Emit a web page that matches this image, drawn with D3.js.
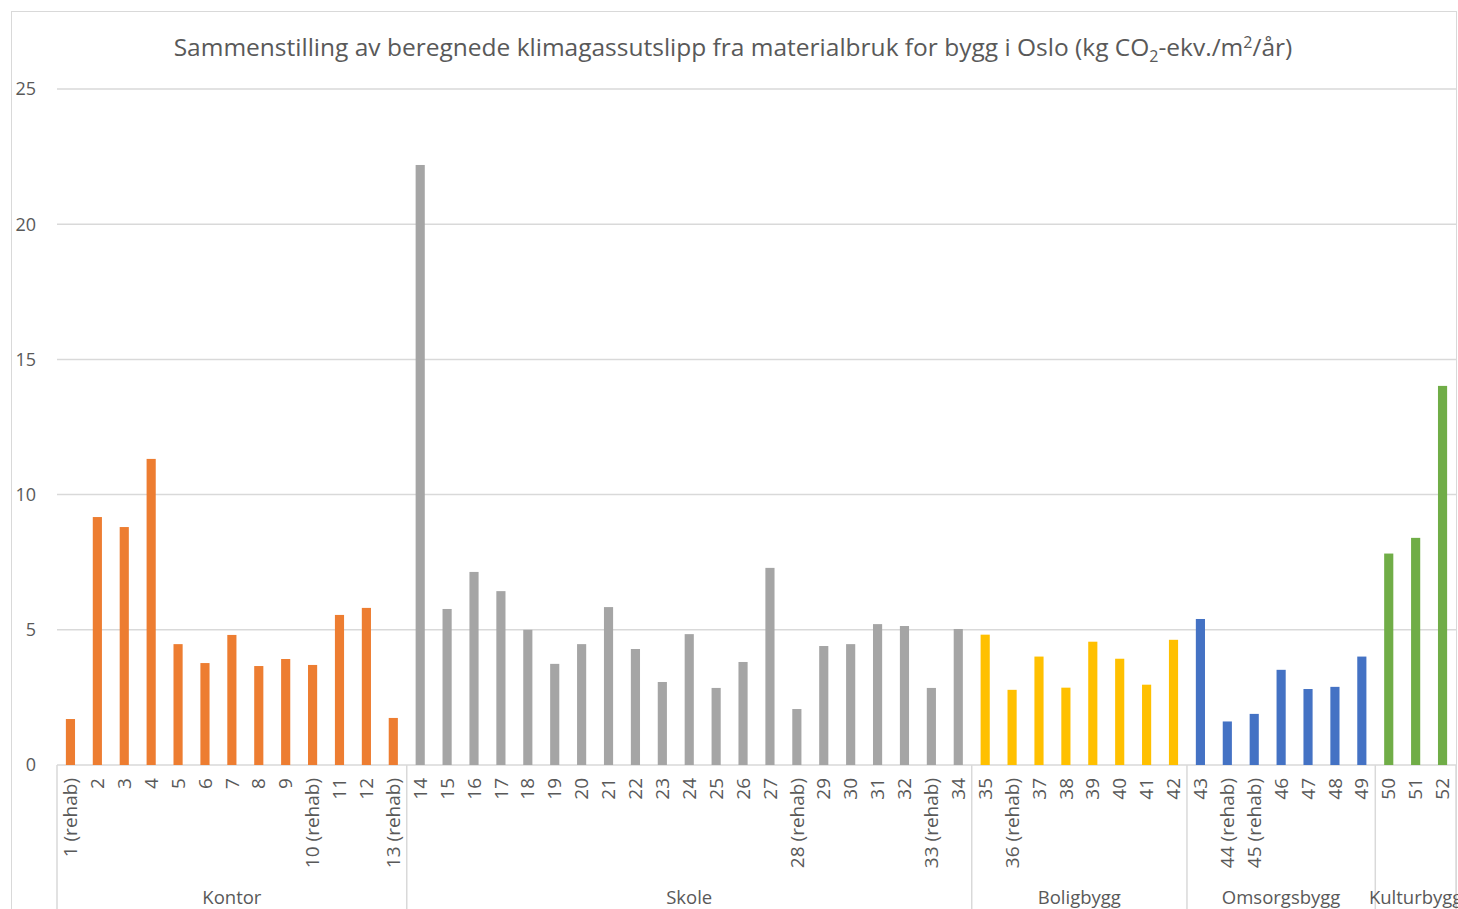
<!DOCTYPE html>
<html lang="no">
<head>
<meta charset="utf-8" />
<style>
  body { margin: 0; background: #fff; }
  text { font-family: "Open Sans", "Noto Sans", sans-serif; fill: #595959; }
  .grid line { stroke: #d9d9d9; stroke-width: 1.5px; }
</style>
</head>
<body>
<script src="https://d3js.org/d3.v7.min.js"></script>
<script>
// data
var labels = ["1 (rehab)","2","3","4","5","6","7","8","9","10 (rehab)","11","12","13 (rehab)",
  "14","15","16","17","18","19","20","21","22","23","24","25","26","27","28 (rehab)","29","30","31","32","33 (rehab)","34",
  "35","36 (rehab)","37","38","39","40","41","42",
  "43","44 (rehab)","45 (rehab)","46","47","48","49",
  "50","51","52"];
var values = [1.70, 9.17, 8.80, 11.32, 4.47, 3.77, 4.81, 3.66, 3.92, 3.70, 5.55, 5.81, 1.74,
  22.19, 5.77, 7.14, 6.43, 5.00, 3.74, 4.47, 5.84, 4.29, 3.07, 4.84, 2.85, 3.81, 7.29, 2.07, 4.40, 4.47, 5.21, 5.14, 2.85, 5.03,
  4.82, 2.78, 4.01, 2.86, 4.56, 3.93, 2.97, 4.63,
  5.40, 1.61, 1.89, 3.52, 2.81, 2.89, 4.01,
  7.82, 8.40, 14.02];
var groupNames = ["Kontor", "Skole", "Boligbygg", "Omsorgsbygg", "Kulturbygg"];
var groupSizes = [13, 21, 8, 7, 3];
var groupColors = ["#ed7d31", "#a5a5a5", "#ffc000", "#4472c4", "#70ad47"];
var yTicks = [0, 5, 10, 15, 20, 25];

var width = 1458, height = 909;
var plotLeft = 57, plotRight = 1456, plotTop = 89, plotBottom = 765;

var svg = d3.select("body").append("svg")
  .attr("width", width)
  .attr("height", height);

// chart border
svg.append("rect")
  .attr("x", 11.5).attr("y", 11.5)
  .attr("width", 1445).attr("height", 920)
  .attr("fill", "none")
  .attr("stroke", "#d9d9d9");

var x = d3.scaleBand()
  .domain(d3.range(labels.length))
  .range([plotLeft, plotRight])
  .paddingInner(0.66)
  .paddingOuter(0.33);

var y = d3.scaleLinear()
  .domain([0, 25])
  .range([plotBottom, plotTop]);

// which group each bar belongs to
var groupOf = [];
groupSizes.forEach(function(n, g){
  for (var i = 0; i < n; i++) groupOf.push(g);
});

// gridlines
svg.append("g")
  .attr("class", "grid")
  .selectAll("line")
  .data(yTicks)
  .enter().append("line")
    .attr("x1", plotLeft).attr("x2", plotRight)
    .attr("y1", function(d){ return y(d); })
    .attr("y2", function(d){ return y(d); });

// y labels
svg.append("g")
  .selectAll("text")
  .data(yTicks)
  .enter().append("text")
    .attr("x", 36)
    .attr("y", function(d){ return y(d); })
    .attr("dy", "0.35em")
    .attr("text-anchor", "end")
    .style("font-size", "18px")
    .text(function(d){ return d; });

// bars
svg.append("g")
  .selectAll("rect")
  .data(values)
  .enter().append("rect")
    .attr("x", function(d, i){ return x(i); })
    .attr("y", function(d){ return y(d); })
    .attr("width", x.bandwidth())
    .attr("height", function(d){ return y(0) - y(d); })
    .attr("fill", function(d, i){ return groupColors[groupOf[i]]; });

// x tick labels, rotated
svg.append("g")
  .selectAll("text")
  .data(labels)
  .enter().append("text")
    .attr("transform", function(d, i){
      return "translate(" + (x(i) + x.bandwidth() / 2) + ",778) rotate(-90)";
    })
    .attr("dy", "0.35em")
    .attr("text-anchor", "end")
    .style("font-size", "19px")
    .text(function(d){ return d; });

// group dividers and names
var step = x.step();
var bounds = [0];
groupSizes.forEach(function(n, g){ bounds.push(bounds[g] + n); });

svg.append("g")
  .selectAll("line")
  .data(bounds)
  .enter().append("line")
    .attr("x1", function(d){ return plotLeft + d * step; })
    .attr("x2", function(d){ return plotLeft + d * step; })
    .attr("y1", plotBottom)
    .attr("y2", height)
    .attr("stroke", "#d9d9d9")
    .attr("stroke-width", 1.5);

svg.append("g")
  .selectAll("text")
  .data(groupNames)
  .enter().append("text")
    .attr("x", function(d, g){ return plotLeft + (bounds[g] + bounds[g + 1]) / 2 * step; })
    .attr("y", 898)
    .attr("dy", "0.35em")
    .attr("text-anchor", "middle")
    .style("font-size", "18.5px")
    .text(function(d){ return d; });

// title
var title = svg.append("text")
  .attr("x", 733)
  .attr("y", 56)
  .attr("text-anchor", "middle")
  .style("font-size", "24.5px");
title.append("tspan").text("Sammenstilling av beregnede klimagassutslipp fra materialbruk for bygg i Oslo (kg CO");
title.append("tspan").attr("dy", 6).style("font-size", "16px").text("2");
title.append("tspan").attr("dy", -6).text("-ekv./m");
title.append("tspan").attr("dy", -8).style("font-size", "16px").text("2");
title.append("tspan").attr("dy", 8).text("/år)");
</script>
</body>
</html>
